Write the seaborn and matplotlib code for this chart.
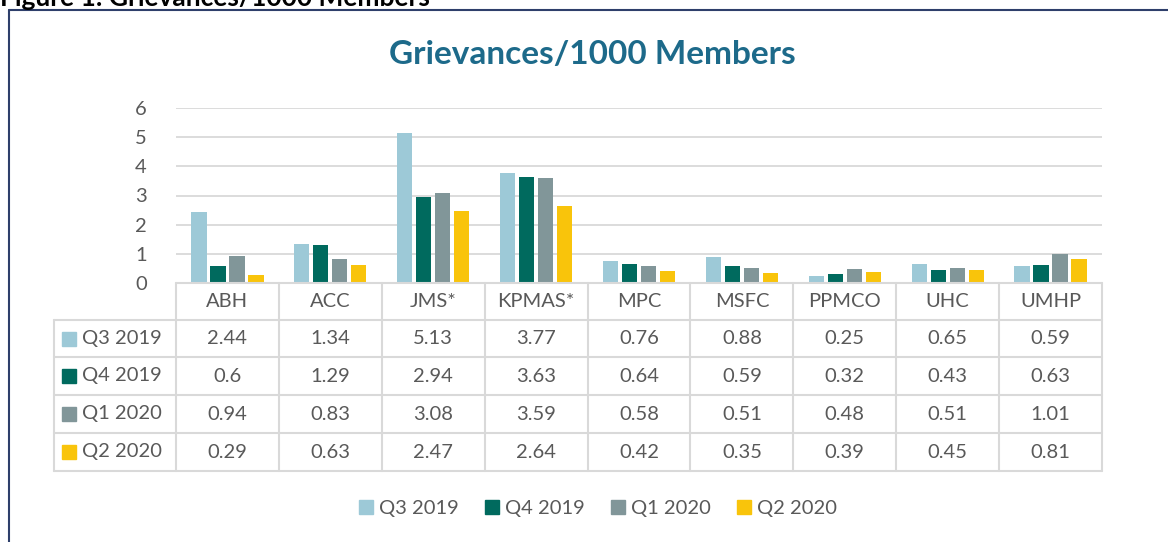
import matplotlib
matplotlib.use("Agg")
import matplotlib.pyplot as plt
from matplotlib.lines import Line2D
import seaborn as sns
import pandas as pd

categories = ["ABH", "ACC", "JMS*", "KPMAS*", "MPC", "MSFC", "PPMCO", "UHC", "UMHP"]
series_names = ["Q3 2019", "Q4 2019", "Q1 2020", "Q2 2020"]
q3_2019 = [2.44, 1.34, 5.13, 3.77, 0.76, 0.88, 0.25, 0.65, 0.59]
q4_2019 = [0.6, 1.29, 2.94, 3.63, 0.64, 0.59, 0.32, 0.43, 0.63]
q1_2020 = [0.94, 0.83, 3.08, 3.59, 0.58, 0.51, 0.48, 0.51, 1.01]
q2_2020 = [0.29, 0.63, 2.47, 2.64, 0.42, 0.35, 0.39, 0.45, 0.81]
y_ticks = [0, 1, 2, 3, 4, 5, 6]
title = "Grievances/1000 Members"
fig_caption = "Figure 1: Grievances/1000 Members"

colors = ["#9DC9D7", "#006A5E", "#819699", "#F9C40B"]
text_color = "#595959"
grid_color = "#D9D9D9"
fs = 14.5

sns.set_theme(style="white")
plt.rcParams["font.family"] = ["Lato", "DejaVu Sans"]

W, H = 1168, 542
fig = plt.figure(figsize=(W / 100, H / 100), dpi=100)

def fx(x):
    return x / W

def fy(y):
    return 1 - y / H

left, right, top, base = 176, 1102, 108, 283
ax = fig.add_axes([fx(left), fy(base), fx(right) - fx(left), fy(top) - fy(base)])

all_series = [q3_2019, q4_2019, q1_2020, q2_2020]
rows = []
for name, vals in zip(series_names, all_series):
    for c, v in zip(categories, vals):
        rows.append({"Plan": c, "Quarter": name, "Value": v})
df = pd.DataFrame(rows)

sns.barplot(data=df, x="Plan", y="Value", hue="Quarter", order=categories,
            hue_order=series_names, palette=colors, width=0.74, gap=0.2,
            saturation=1, ax=ax, legend=False, linewidth=0)

ax.set_xlim(-0.5, len(categories) - 0.5)
ax.set_ylim(0, 6)
ax.set_yticks(y_ticks)
ax.set_yticklabels([str(t) for t in y_ticks], color=text_color, fontsize=fs)
ax.tick_params(axis="y", length=0, pad=21)
ax.set_xticks([])
ax.set_xlabel("")
ax.set_ylabel("")
for s in ax.spines.values():
    s.set_visible(False)
ax.yaxis.grid(True, color=grid_color, linewidth=1.3)
ax.set_axisbelow(True)

# Data table
row_ys = [283, 320, 357, 395, 433, 471]
col_w = (right - left) / len(categories)
col_xs = [left + i * col_w for i in range(len(categories) + 1)]
lbl_left = 54
tl = dict(color=grid_color, linewidth=1.5, transform=fig.transFigure)
for i, y in enumerate(row_ys):
    x0 = left if i == 0 else lbl_left
    fig.add_artist(Line2D([fx(x0), fx(right)], [fy(y), fy(y)], **tl))
for x in col_xs:
    fig.add_artist(Line2D([fx(x), fx(x)], [fy(row_ys[0]), fy(row_ys[-1])], **tl))
fig.add_artist(Line2D([fx(lbl_left), fx(lbl_left)], [fy(row_ys[1]), fy(row_ys[-1])], **tl))

for j, c in enumerate(categories):
    cx = (col_xs[j] + col_xs[j + 1]) / 2
    fig.text(fx(cx), fy((row_ys[0] + row_ys[1]) / 2), c, ha="center", va="center",
             fontsize=fs, color=text_color)
for i, (name, vals) in enumerate(zip(series_names, all_series)):
    cy = (row_ys[i + 1] + row_ys[i + 2]) / 2
    fig.add_artist(Line2D([fx(69)], [fy(cy)], marker="s", markersize=10.5,
                          color=colors[i], linestyle="none", transform=fig.transFigure))
    fig.text(fx(82), fy(cy), name, ha="left", va="center", fontsize=fs, color=text_color)
    for j, v in enumerate(vals):
        cx = (col_xs[j] + col_xs[j + 1]) / 2
        fig.text(fx(cx), fy(cy), str(v), ha="center", va="center", fontsize=fs,
                 color=text_color)

# Title
fig.text(fx(592), fy(54), title, ha="center", va="center", fontsize=24,
         fontweight="bold", color="#1D6A8A")

# Legend
handles = [Line2D([0], [0], marker="s", markersize=10.5, color=col, linestyle="none")
           for col in colors]
fig.legend(handles, series_names, loc="center", bbox_to_anchor=(fx(598), fy(508)),
           ncol=4, frameon=False, fontsize=fs, handlelength=0.7, handletextpad=0.3,
           columnspacing=1.3, labelcolor=text_color)

# Outer frame (left and top edges visible)
fc = dict(color="#2E3F6B", linewidth=1.5, transform=fig.transFigure)
fig.add_artist(Line2D([fx(8.5), fx(8.5)], [fy(10), 0], **fc))
fig.add_artist(Line2D([fx(8.5), 1], [fy(10), fy(10)], **fc))

# Caption, cut off at the top edge as in the source
fig.text(fx(0), fy(-2), fig_caption, ha="left", va="center", fontsize=19,
         fontweight="bold", color="black")

fig.savefig("out.png", dpi=100)
